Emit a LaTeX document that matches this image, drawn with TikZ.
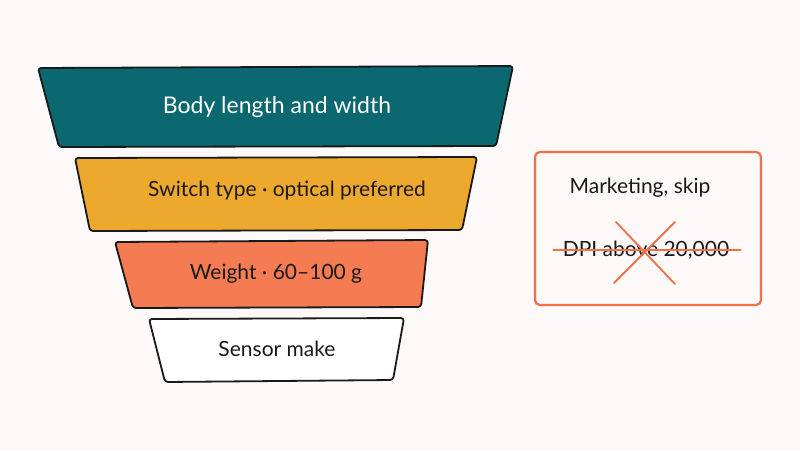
\documentclass[tikz,border=0pt]{standalone}
\usepackage{fontspec}
\setmainfont{Lato}
\usepackage{tikz}
\usetikzlibrary{positioning}
\usepackage{xcolor}
\definecolor{funnelteal}{RGB}{11,104,112}
\definecolor{funnelamber}{RGB}{236,169,46}
\definecolor{funnelcoral}{RGB}{245,123,83}
\definecolor{skiporange}{RGB}{241,112,72}
\definecolor{inkdark}{RGB}{26,26,26}
\definecolor{paper}{RGB}{252,249,248}

\begin{document}
\begin{tikzpicture}[x=1pt, y=-1pt,
  layer/.style={draw=inkdark, line width=1.8pt, rounded corners=3pt, line join=round},
  label/.style={font=\fontsize{21}{25}\selectfont, text=inkdark},
  strike/.style={draw=skiporange, line width=1.8pt, line cap=round}]
\fill[paper] (0,0) rectangle (800,450);
\useasboundingbox (0,0) rectangle (800,450);
% funnel, widest layer on top
\draw[layer, fill=funnelteal] (38,68) -- (513,66) -- (496,146) -- (59,147) -- cycle;
\node[label, text=white, font=\fontsize{23}{27}\selectfont] (body) at (277,107) {Body length and width};
\draw[layer, fill=funnelamber] (75,158) -- (477,157) -- (462,230) -- (90,231) -- cycle;
\node[label] (switch) at (287,191) {Switch type · optical preferred};
\draw[layer, fill=funnelcoral] (115,242) -- (428,240) -- (421,307) -- (133,308) -- cycle;
\node[label] (weight) at (276,274) {Weight · 60--100 g};
\draw[layer, fill=white] (149,319) -- (404,318) -- (393,380) -- (165,382) -- cycle;
\node[label] (sensor) at (277,349) {Sensor make};
% skipped on purpose
\draw[strike, line width=2.2pt, rounded corners=5pt] (535,152) rectangle (761,305);
\node[label] (marketing) at (640,188) {Marketing, skip};
\node[label] (dpi) at (646,250) {DPI above 20,000};
\draw[strike] ([xshift=-6pt]dpi.west) -- ([xshift=8pt]dpi.east);
\coordinate (cross) at (645,253);
\draw[strike] ([shift={(-29,-31)}]cross) -- ([shift={(30,31)}]cross);
\draw[strike] ([shift={(30,-31)}]cross) -- ([shift={(-31,30)}]cross);
\end{tikzpicture}
\end{document}
